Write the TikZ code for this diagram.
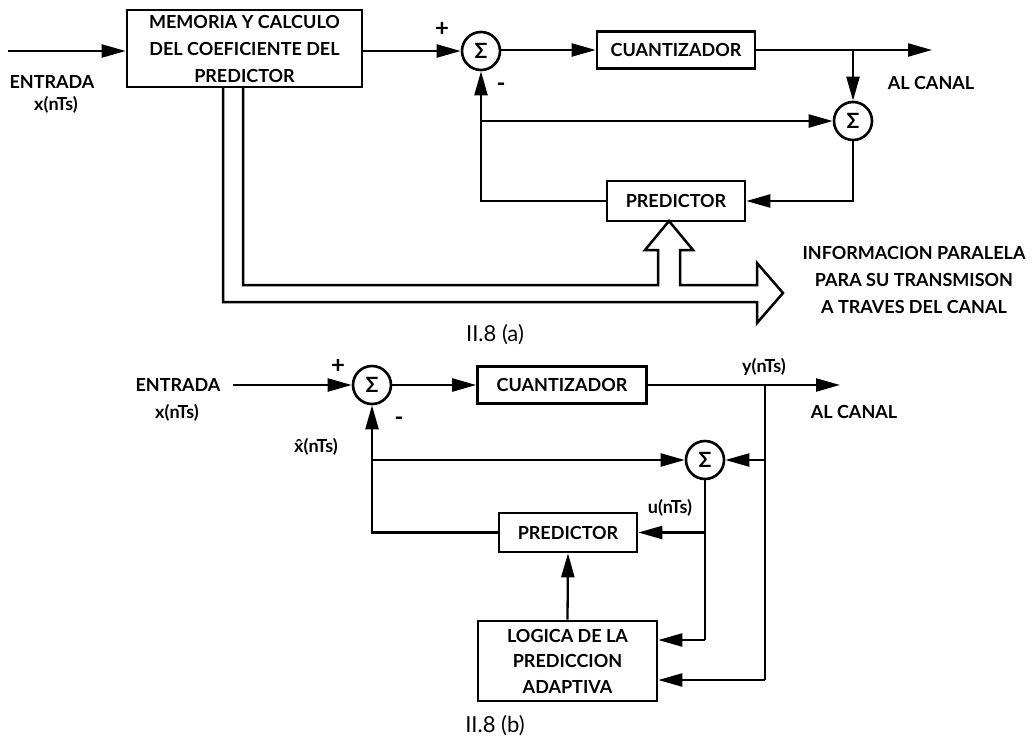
\documentclass[tikz,border=0pt]{standalone}
\usepackage{fontspec}
\setmainfont{Lato}
\usetikzlibrary{arrows.meta}
\begin{document}
\begin{tikzpicture}[x=1pt,y=-1pt,
  line width=2.3pt,
  >={Triangle[length=24pt,width=13pt]},
  blk/.style={draw,line width=2.6pt,inner sep=0pt,font=\fontsize{18}{27}\selectfont\bfseries,align=center},
  sum/.style={draw,circle,line width=2.6pt,minimum size=38pt,inner sep=0pt,font=\fontsize{21}{21}\selectfont\bfseries},
  lbl/.style={font=\fontsize{18}{27}\selectfont\bfseries,align=center,inner sep=0pt},
  sgn/.style={font=\fontsize{24}{24}\selectfont\bfseries,inner sep=0pt},
  figcap/.style={font=\fontsize{22}{22}\selectfont,inner sep=0pt},
  hollow/.style={draw,line width=2.5pt,line join=miter}]
\useasboundingbox (0,0) rectangle (1035,739);

% ---------------- (a) ----------------
\node[blk,minimum width=235pt,minimum height=77pt] (mem) at (244.5,48.5) {MEMORIA Y CALCULO\\DEL COEFICIENTE DEL\\PREDICTOR};
\node[sum] (s1) at (481,51) {Σ};
\node[blk,minimum width=158pt,minimum height=37pt] (cq1) at (676,50) {CUANTIZADOR};
\node[sum] (s2) at (853,121) {Σ};
\node[blk,minimum width=138pt,minimum height=40pt] (pa) at (676,201) {PREDICTOR};

\node[lbl] (ent1) at (52,82) {ENTRADA};
\node[lbl] (x1) at (56,105) {x(nTs)};
\node[sgn] (p1) at (442,29) {+};
\node[sgn] (m1) at (501,87) {-};
\node[lbl] (ac1) at (931,83) {AL CANAL};
\node[lbl] (info) at (914,280) {INFORMACION PARALELA\\PARA SU TRANSMISON\\A TRAVES DEL CANAL};
\node[figcap] (cap1) at (495,335) {II.8 (a)};

\coordinate (in1) at (8,51);
\coordinate (out1) at (932,50);
\coordinate (t1) at (853,50);
\coordinate (f1) at (481,121);
\coordinate (c2) at (853,201);
\coordinate (c1) at (481,201);

\draw[->] (in1) -- (in1 -| mem.west);
\draw[->] (mem.east |- s1) -- (s1.west);
\draw[->] (s1.east |- cq1) -- (cq1.west);
\draw[->] (cq1.east) -- (out1);
\draw[->] (t1) -- (s2.north);
\draw[->] (f1) -- (s2.west);
\draw[->] (s2.south) -- (c2) -- (pa.east);
\draw[->] (pa.west) -- (c1) -- (s1.south);

% hollow arrows
\draw[hollow] (223,87) -- (223,302) -- (757,302) -- (757,323) -- (783,293) -- (757,263)
  -- (757,285) -- (680,285) -- (680,250) -- (693,250) -- (669,221) -- (645,250)
  -- (658,250) -- (658,285) -- (243,285) -- (243,87);

% ---------------- (b) ----------------
\node[sum] (s3) at (372,385) {Σ};
\node[blk,minimum width=169pt,minimum height=37pt] (cq2) at (562,385) {CUANTIZADOR};
\node[sum] (s4) at (705,460) {Σ};
\node[blk,minimum width=138pt,minimum height=39pt] (pb) at (568,532.5) {PREDICTOR};
\node[blk,minimum width=179pt,minimum height=80pt,font=\fontsize{18}{25.5}\selectfont\bfseries] (lg) at (567.5,661) {LOGICA DE LA\\PREDICCION\\ADAPTIVA};

\node[lbl] (ent2) at (178,385) {ENTRADA};
\node[lbl] (x2) at (177,413) {x(nTs)};
\node[sgn] (p2) at (338,366) {+};
\node[sgn] (m2) at (399,421) {-};
\node[lbl] (xh) at (316,447) {\^{x}(nTs)};
\node[lbl] (y2) at (764,367) {y(nTs)};
\node[lbl] (ac2) at (854,412) {AL CANAL};
\node[lbl] (u2) at (670,508) {u(nTs)};
\node[figcap] (cap2) at (495,726) {II.8 (b)};

\coordinate (in2) at (233,385);
\coordinate (out2) at (840,385);
\coordinate (t2) at (765,385);
\coordinate (t2b) at (765,680);
\coordinate (f2) at (372,460);
\coordinate (r2) at (765,460);
\coordinate (d4) at (705,640);
\coordinate (b4) at (705,532.5);
\coordinate (c3) at (372,532.5);

\draw[->] (in2) -- (s3.west);
\draw[->] (s3.east) -- (cq2.west);
\draw[->] (cq2.east) -- (out2);
\draw (t2) -- (t2b);
\draw[->] (t2b) -- (t2b -| lg.east);
\draw[->] (f2) -- (s4.west);
\draw[->] (r2) -- (s4.east);
\draw (s4.south) -- (d4);
\draw[->] (d4) -- (d4 -| lg.east);
\draw[->] (b4) -- (pb.east);
\draw[->] (pb.west) -- (c3) -- (s3.south);
\draw[->] (lg.north) -- (pb.south);
\end{tikzpicture}
\end{document}
